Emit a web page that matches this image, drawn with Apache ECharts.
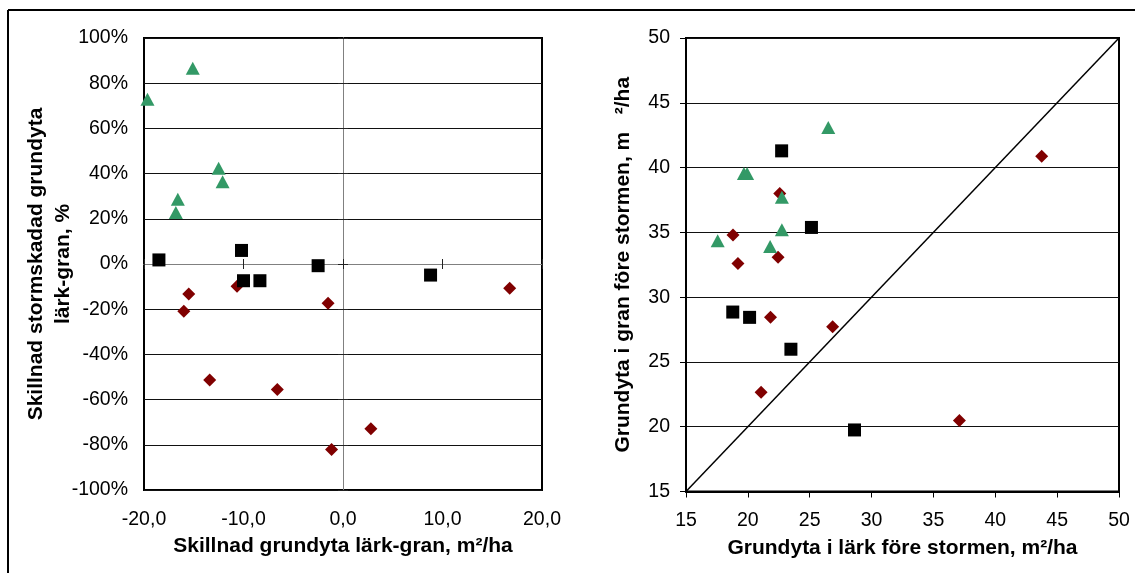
<!DOCTYPE html>
<html><head><meta charset="utf-8">
<script src="https://cdn.jsdelivr.net/npm/echarts@6/dist/echarts.min.js"></script>
<style>html,body{margin:0;padding:0;background:#fff}#c{width:1135px;height:573px}</style>
</head><body><div id="c"></div>
<script>
// ---- tick labels ----
const leftXTicks = ['-20,0', '-10,0', '0,0', '10,0', '20,0'];
const leftYTicks = ['-100%', '-80%', '-60%', '-40%', '-20%', '0%', '20%', '40%', '60%', '80%', '100%'];
const rightTicks = ['15', '20', '25', '30', '35', '40', '45', '50'];

// ---- left chart: x = skillnad grundyta (m2/ha), y = skillnad stormskadad grundyta (%) ----
const leftTriangles = [[-19.65, 72.9], [-15.1, 86.6], [-12.5, 42.4], [-12.1, 36.4], [-16.6, 28.7], [-16.8, 22.8]];
const leftSquares = [[-18.5, 1.8], [-10.2, 6.0], [-10.0, -7.4], [-8.35, -7.4], [-2.5, -0.75], [8.8, -4.9]];
const leftDiamonds = [[-15.5, -13.3], [-10.65, -9.9], [16.75, -10.7], [-16.0, -20.9], [-1.5, -17.4],
                      [-13.4, -51.3], [-6.6, -55.5], [2.8, -72.9], [-1.15, -82.1]];

// ---- right chart: x = grundyta i lärk, y = grundyta i gran ----
const rightTriangles = [[17.56, 34.35], [19.68, 39.55], [19.94, 39.55], [22.75, 37.7], [22.75, 35.2], [21.8, 33.9], [26.5, 43.1]];
const rightSquares = [[22.73, 41.29], [25.14, 35.38], [18.78, 28.85], [20.14, 28.44], [23.48, 25.98], [28.62, 19.75]];
const rightDiamonds = [[43.75, 40.88], [22.58, 38.0], [18.8, 34.8], [19.2, 32.6], [22.44, 33.07],
                       [21.83, 28.44], [26.85, 27.72], [21.07, 22.66], [37.1, 20.47]];
const diagonal = [[15, 15], [50, 50]];

const FONT = 'Arial, "Liberation Sans", sans-serif';
const GREEN = '#339966', RED = '#800000', BLACK = '#000000';
const labelStyle = { color: '#000', fontSize: 19.5, fontFamily: FONT };
const nameStyle = { color: '#000', fontSize: 21, fontWeight: 'bold', fontFamily: FONT };

const chart = echarts.init(document.getElementById('c'), null, { renderer: 'canvas' });

function zeroXAxis(pos) {
  return {
    gridIndex: 0, type: 'value', min: -20, max: 20, interval: 10, position: pos, z: 3,
    axisLine: { show: true, onZero: true, onZeroAxisIndex: 0, lineStyle: { color: '#808080', width: 1 } },
    axisTick: { show: true, length: 5, lineStyle: { color: '#222', width: 1 } },
    axisLabel: { show: false }, splitLine: { show: false }
  };
}
function zeroYAxis(pos) {
  return {
    gridIndex: 0, type: 'value', min: -100, max: 100, interval: 20, position: pos, z: 3,
    axisLine: { show: true, onZero: true, onZeroAxisIndex: 0, lineStyle: { color: '#808080', width: 1 } },
    axisTick: { show: true, length: 5, lineStyle: { color: '#222', width: 1 } },
    axisLabel: { show: false }, splitLine: { show: false }
  };
}

const option = {
  animation: false,
  backgroundColor: '#fff',
  grid: [
    { left: 144, top: 38, width: 398, height: 452, show: true, borderColor: '#000', borderWidth: 2, containLabel: false, outerBoundsMode: 'none' },
    { left: 686, top: 38, width: 433, height: 453.5, show: true, borderColor: '#000', borderWidth: 2, containLabel: false, outerBoundsMode: 'none' }
  ],
  xAxis: [
    {
      gridIndex: 0, type: 'value', min: -20, max: 20, interval: 10, position: 'bottom',
      axisLine: { show: false, onZero: false }, axisTick: { show: false }, splitLine: { show: false },
      axisLabel: Object.assign({ margin: 20, formatter: v => leftXTicks[Math.round((v + 20) / 10)] }, labelStyle),
      name: 'Skillnad grundyta lärk-gran, m²/ha', nameLocation: 'middle', nameGap: 46, nameTextStyle: nameStyle,
      nameMoveOverlap: false
    },
    zeroXAxis('bottom'),
    zeroXAxis('top'),
    {
      gridIndex: 1, type: 'value', min: 15, max: 50, interval: 5, position: 'bottom',
      axisLine: { show: true, onZero: false, lineStyle: { color: '#000', width: 2 } },
      axisTick: { show: true, length: 6, lineStyle: { color: '#000', width: 1 } },
      splitLine: { show: false },
      axisLabel: Object.assign({ margin: 19, formatter: v => rightTicks[Math.round((v - 15) / 5)] }, labelStyle),
      name: 'Grundyta i lärk före stormen, m²/ha', nameLocation: 'middle', nameGap: 46, nameTextStyle: nameStyle,
      nameMoveOverlap: false
    }
  ],
  yAxis: [
    {
      gridIndex: 0, type: 'value', min: -100, max: 100, interval: 20, position: 'left', z: 1,
      axisLine: { show: false, onZero: false }, axisTick: { show: false },
      splitLine: { show: true, lineStyle: { color: '#111', width: 1 } },
      axisLabel: Object.assign({ margin: 16, formatter: v => leftYTicks[Math.round((v + 100) / 20)] }, labelStyle),
      name: 'Skillnad stormskadad grundyta\nlärk-gran, %', nameLocation: 'middle', nameRotate: 90, nameGap: 67,
      nameTextStyle: Object.assign({ lineHeight: 27 }, nameStyle), nameMoveOverlap: false
    },
    zeroYAxis('left'),
    zeroYAxis('right'),
    {
      gridIndex: 1, type: 'value', min: 15, max: 50, interval: 5, position: 'left',
      axisLine: { show: true, onZero: false, lineStyle: { color: '#000', width: 2 } },
      axisTick: { show: true, length: 6, lineStyle: { color: '#000', width: 1 } },
      splitLine: { show: true, lineStyle: { color: '#111', width: 1 } },
      axisLabel: Object.assign({ margin: 16, formatter: v => rightTicks[Math.round((v - 15) / 5)] }, labelStyle),
      name: 'Grundyta i gran före stormen, m   ²/ha', nameLocation: 'middle', nameRotate: 90, nameGap: 52,
      nameTextStyle: nameStyle, nameMoveOverlap: false
    }
  ],
  series: [
    { type: 'scatter', xAxisIndex: 0, yAxisIndex: 0, data: leftDiamonds, symbol: 'diamond', symbolSize: [13, 13], itemStyle: { color: RED, opacity: 1 }, z: 4 },
    { type: 'scatter', xAxisIndex: 0, yAxisIndex: 0, data: leftSquares, symbol: 'rect', symbolSize: [13, 13], itemStyle: { color: BLACK, opacity: 1 }, z: 5 },
    { type: 'scatter', xAxisIndex: 0, yAxisIndex: 0, data: leftTriangles, symbol: 'triangle', symbolSize: [14, 13], itemStyle: { color: GREEN, opacity: 1 }, z: 6 },
    { type: 'line', xAxisIndex: 3, yAxisIndex: 3, data: diagonal, symbol: 'none', lineStyle: { color: '#000', width: 1.5 }, z: 3, silent: true },
    { type: 'scatter', xAxisIndex: 3, yAxisIndex: 3, data: rightDiamonds, symbol: 'diamond', symbolSize: [13, 13], itemStyle: { color: RED, opacity: 1 }, z: 4 },
    { type: 'scatter', xAxisIndex: 3, yAxisIndex: 3, data: rightSquares, symbol: 'rect', symbolSize: [13, 13], itemStyle: { color: BLACK, opacity: 1 }, z: 5 },
    { type: 'scatter', xAxisIndex: 3, yAxisIndex: 3, data: rightTriangles, symbol: 'triangle', symbolSize: [14, 13], itemStyle: { color: GREEN, opacity: 1 }, z: 6 }
  ],
  graphic: [
    { type: 'line', shape: { x1: 8, y1: 10, x2: 1135, y2: 10 }, style: { stroke: '#000', lineWidth: 2 } },
    { type: 'line', shape: { x1: 8, y1: 10, x2: 8, y2: 573 }, style: { stroke: '#000', lineWidth: 2 } }
  ]
};
chart.setOption(option);
</script>
</body></html>
